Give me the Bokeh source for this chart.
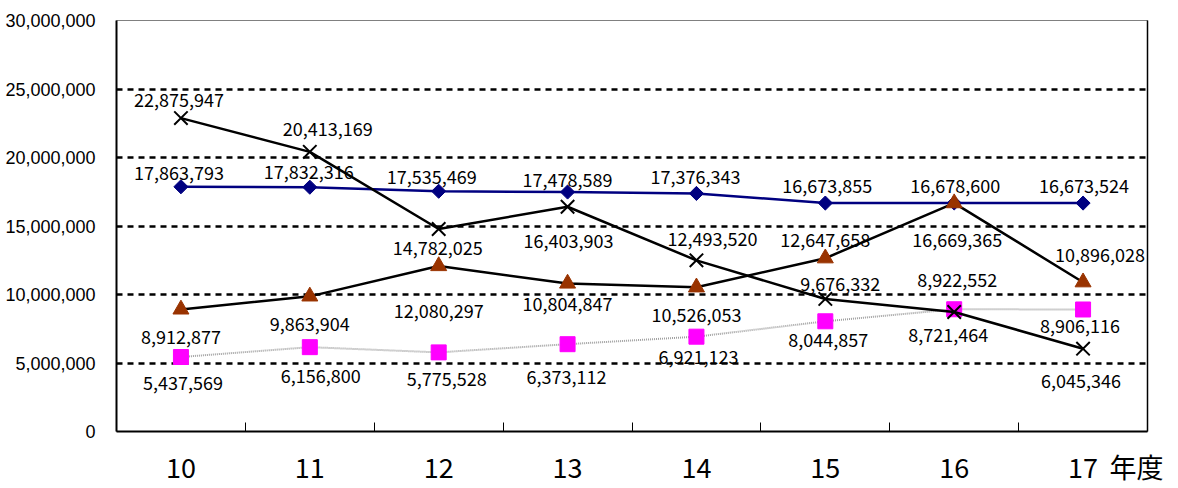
import math
from bokeh.plotting import figure
from bokeh.models import (ColumnDataSource, FixedTicker, NumeralTickFormatter,
                          LinearAxis, Range1d)
from bokeh.core.properties import value
from bokeh.embed import file_html
from bokeh.resources import INLINE

# fiscal years (Heisei)
years = ["10", "11", "12", "13", "14", "15", "16", "17"]
year_unit = "年度"

navy_vals = [17863793, 17832316, 17535469, 17478589, 17376343, 16673855, 16678600, 16673524]
brown_vals = [8912877, 9863904, 12080297, 10804847, 10526053, 12647658, 16669365, 10896028]
cross_vals = [22875947, 20413169, 14782025, 16403903, 12493520, 9676332, 8721464, 6045346]
pink_vals = [5437569, 6156800, 5775528, 6373112, 6921123, 8044857, 8922552, 8906116]

y_ticks = [0, 5000000, 10000000, 15000000, 20000000, 25000000, 30000000]

# label placement (screen pixel nudges, +dy = downward)
navy_dx = [-2, -1, -7, 0, -1, 2, 1, 1]
navy_dy = [-14, -15, -14, -12, -16, -17, -17, -17]
brown_dx = [0, 0, 0, 0, 0, 0, 3, 17]
brown_dy = [28, 28, 45, 21, 28, -18, 37, -27]
cross_dx = [-2, 18, -1, 1, 16, 15, -6, -2]
cross_dy = [-18, -23, 19, 34, -21, -15, 23, 32]
pink_dx = [2, 11, 8, -1, 2, 3, 3, -3]
pink_dy = [26, 29, 27, 33, 20, 19, -29, 17]

xs = [i + 0.5 for i in range(len(years))]
unit_x = len(years) - 0.085   # unit caption sits just right of the last year

LABEL_FONT = "Noto Sans CJK JP"

p = figure(width=1178, height=488, output_backend="svg", toolbar_location=None,
           x_range=Range1d(0, len(years)), y_range=Range1d(0, 30000000),
           min_border_left=116, min_border_right=31, min_border_top=20,
           min_border_bottom=57, background_fill_color="white",
           border_fill_color="white")
p.outline_line_color = "#808080"
p.outline_line_width = 1

# axes
p.xaxis.ticker = FixedTicker(ticks=xs + [unit_x], minor_ticks=list(range(1, len(years))))
overrides = {x: y for x, y in zip(xs, years)}
overrides[unit_x] = year_unit
p.xaxis.major_label_overrides = overrides
p.xaxis.major_tick_line_color = None
p.xaxis.minor_tick_in = 9
p.xaxis.minor_tick_out = 0
p.xaxis.minor_tick_line_color = "black"
p.xaxis.minor_tick_line_width = 1
p.xaxis.axis_line_color = "black"
p.xaxis.axis_line_width = 2
p.xaxis.major_label_text_font = LABEL_FONT
p.xaxis.major_label_text_font_size = "27px"
p.xaxis.major_label_text_color = "black"
p.xaxis.major_label_standoff = 9

p.yaxis.ticker = FixedTicker(ticks=y_ticks)
p.yaxis.formatter = NumeralTickFormatter(format="0,0")
p.yaxis.major_tick_line_color = None
p.yaxis.minor_tick_line_color = None
p.yaxis.axis_line_color = "black"
p.yaxis.axis_line_width = 2
p.yaxis.major_label_text_font = "Liberation Sans"
p.yaxis.major_label_text_font_size = "18px"
p.yaxis.major_label_text_color = "black"
p.yaxis.major_label_standoff = 15

right_axis = LinearAxis(ticker=FixedTicker(ticks=[]), axis_line_color="black",
                        axis_line_width=1.5, major_tick_line_color=None,
                        minor_tick_line_color=None,
                        major_label_text_font_size="0px")
p.add_layout(right_axis, "right")

p.xgrid.grid_line_color = None
p.ygrid.ticker = FixedTicker(ticks=y_ticks[1:])
p.ygrid.grid_line_color = "black"
p.ygrid.grid_line_width = 2.5
p.ygrid.grid_line_dash = "6 5"

def series(vals, dx, dy):
    return ColumnDataSource(dict(
        x=xs, y=vals, txt=[f"{v:,}" for v in vals], dx=dx, dy=dy))

s_pink = series(pink_vals, pink_dx, pink_dy)
s_navy = series(navy_vals, navy_dx, navy_dy)
s_brown = series(brown_vals, brown_dx, brown_dy)
s_cross = series(cross_vals, cross_dx, cross_dy)

p.line("x", "y", source=s_pink, line_color="#a0a0a0", line_width=2, line_dash="1 1")
p.scatter("x", "y", source=s_pink, marker="square", size=15,
          fill_color="#ff00ff", line_color="#ff00ff")

p.line("x", "y", source=s_navy, line_color="#000080", line_width=2.5)
p.scatter("x", "y", source=s_navy, marker="square", size=10, angle=math.pi / 4,
          fill_color="#000080", line_color="#000080")

p.line("x", "y", source=s_brown, line_color="black", line_width=2.5)
p.scatter("x", "y", source=s_brown, marker="triangle", size=16,
          fill_color="#993300", line_color="#993300")

p.line("x", "y", source=s_cross, line_color="black", line_width=2.5)
p.scatter("x", "y", source=s_cross, marker="x", size=19,
          line_color="black", line_width=2)

for src in (s_pink, s_navy, s_brown, s_cross):
    p.text("x", "y", text="txt", source=src, x_offset="dx", y_offset="dy",
           text_align="center", text_baseline="middle",
           text_font=value(LABEL_FONT), text_font_size="18px", text_color="black")

open("out.html", "w").write(file_html(p, INLINE))
